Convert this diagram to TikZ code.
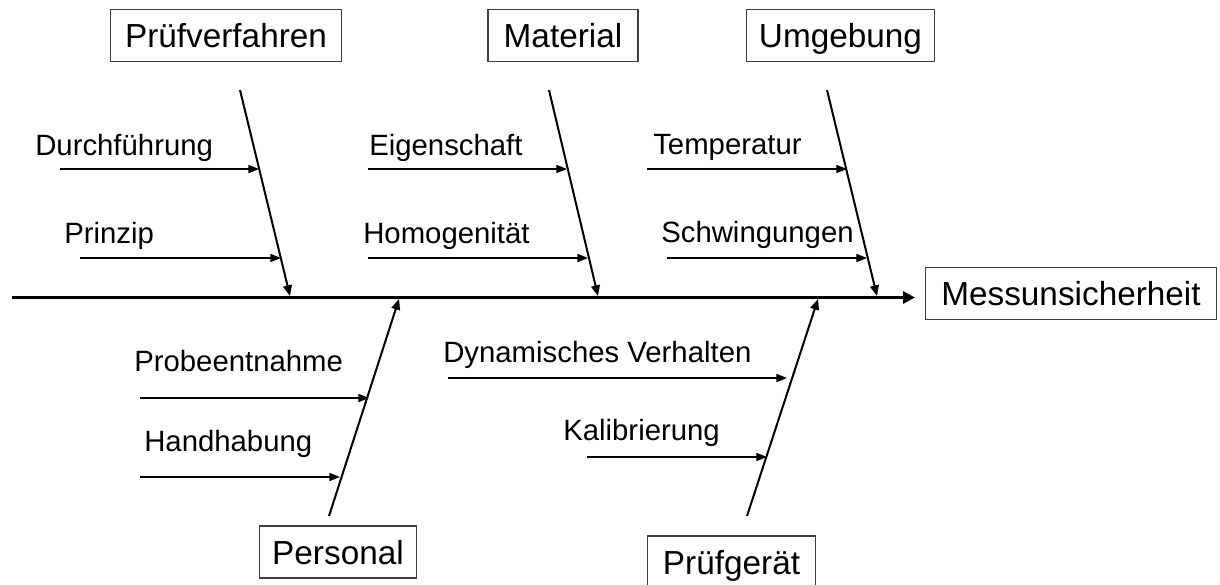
\documentclass[tikz,border=0pt]{standalone}
\usepackage{fontspec}
\setmainfont{Liberation Sans}
\usetikzlibrary{arrows.meta}
\begin{document}
\begin{tikzpicture}[x=0.75pt,y=-0.75pt,
  cause/.style={draw=black!75,line width=0.8pt,inner sep=0pt,font=\fontsize{25}{30}\selectfont,
    text height=18pt,text depth=0pt,anchor=center},
  label/.style={inner sep=0pt,anchor=base west,font=\fontsize{22}{26}\selectfont},
  spine/.style={line width=2.6pt,-{Triangle[length=9pt,width=9pt]}},
  bone/.style={line width=1.5pt,-{Triangle[length=8pt,width=6.5pt]}},
  twig/.style={line width=1.25pt,-{Triangle[length=8pt,width=6pt]}}]
\useasboundingbox (0,0) rectangle (1220,585);
\begin{scope}
\clip (0,0) rectangle (1220,585);

% effect and main spine
\node[cause,minimum width=217.7pt,minimum height=38.5pt] (effect) at (1071,293.5) {Messunsicherheit};
\coordinate (tail) at (12,297.5);
\coordinate (head) at (915,297.5);
\draw[spine] (tail) -- (head);

% cause categories
\node[cause,minimum width=173.8pt,minimum height=39.3pt] (c1) at (226,35.5) {Prüfverfahren};
\node[cause,minimum width=112.5pt,minimum height=39.5pt] (c2) at (563,35.5) {Material};
\node[cause,minimum width=140.7pt,minimum height=39pt] (c3) at (840.5,35.7) {Umgebung};
\node[cause,minimum width=118.3pt,minimum height=39pt] (c4) at (338,552) {Personal};
\node[cause,minimum width=126.3pt,minimum height=39pt] (c5) at (731.5,562) {Prüfgerät};

% main bones
\coordinate (b1s) at (240,90);   \coordinate (b1e) at (290,296);
\coordinate (b2s) at (549,90);   \coordinate (b2e) at (598,296);
\coordinate (b3s) at (827,90);   \coordinate (b3e) at (877,296);
\coordinate (b4s) at (329,516);  \coordinate (b4e) at (399,299);
\coordinate (b5s) at (747,516);  \coordinate (b5e) at (818,299);
\draw[bone] (b1s) -- (b1e);
\draw[bone] (b2s) -- (b2e);
\draw[bone] (b3s) -- (b3e);
\draw[bone] (b4s) -- (b4e);
\draw[bone] (b5s) -- (b5e);

% sub-causes
\node[label] (l11) at (35,155) {Durchführung};
\node[label] (l12) at (64,243) {Prinzip};
\node[label] (l21) at (369,155) {Eigenschaft};
\node[label] (l22) at (363,243) {Homogenität};
\node[label] (l31) at (653,154) {Temperatur};
\node[label] (l32) at (661,242) {Schwingungen};
\node[label] (l41) at (134,371) {Probeentnahme};
\node[label] (l42) at (144,451) {Handhabung};
\node[label] (l51) at (443,362) {Dynamisches Verhalten};
\node[label] (l52) at (563,440) {Kalibrierung};

\coordinate (a11) at (60,169);   \coordinate (t11) at (259,169);
\coordinate (a12) at (80,258);   \coordinate (t12) at (281,258);
\coordinate (a21) at (368,169);  \coordinate (t21) at (567,169);
\coordinate (a22) at (368,258);  \coordinate (t22) at (588,258);
\coordinate (a31) at (647,169);  \coordinate (t31) at (847,169);
\coordinate (a32) at (667,258);  \coordinate (t32) at (867,258);
\coordinate (a41) at (140,398);  \coordinate (t41) at (369,398);
\coordinate (a42) at (140,477);  \coordinate (t42) at (340,477);
\coordinate (a51) at (448,378);  \coordinate (t51) at (787,378);
\coordinate (a52) at (587,457);  \coordinate (t52) at (767,457);
\foreach \k in {11,12,21,22,31,32,41,42,51,52}
  \draw[twig] (a\k) -- (t\k);
\end{scope}
\end{tikzpicture}
\end{document}
